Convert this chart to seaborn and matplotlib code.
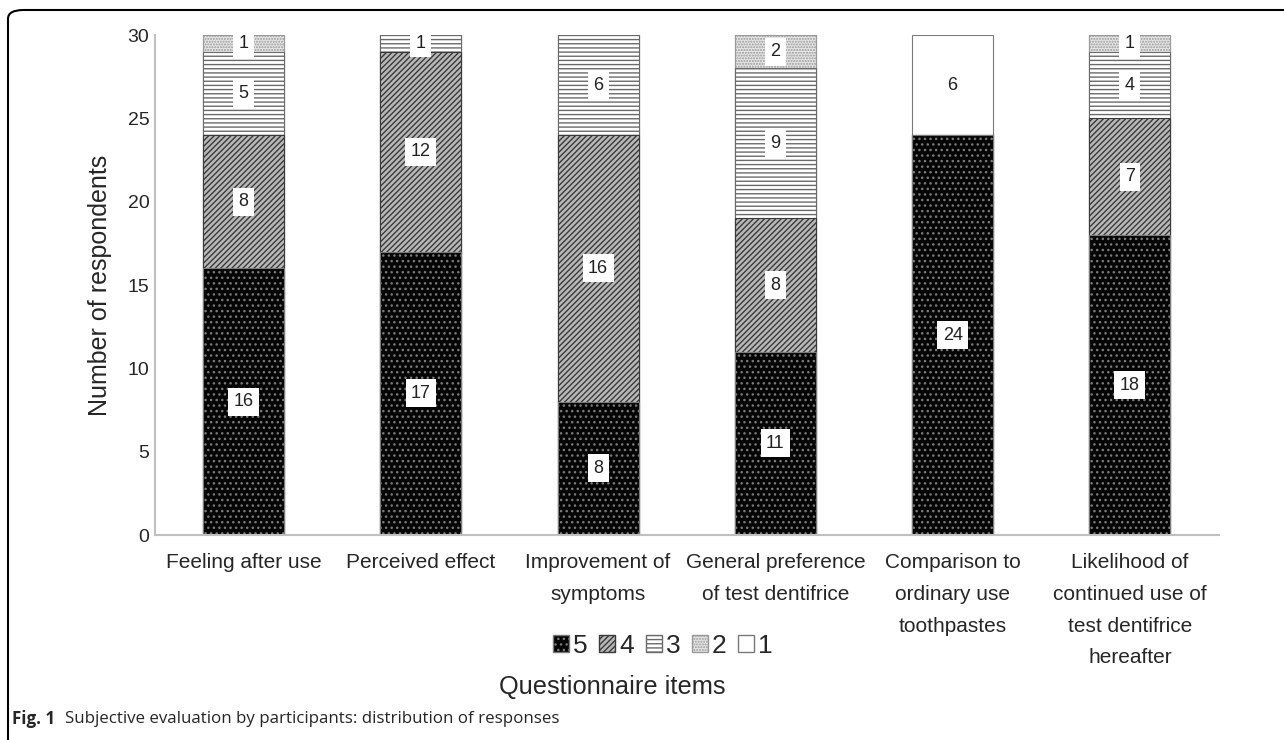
import matplotlib
matplotlib.use("Agg")
import matplotlib.pyplot as plt
import matplotlib.patches as mpatches
import numpy as np
import seaborn as sns

# Questionnaire items (x categories)
items = [
    "Feeling after use",
    "Perceived effect",
    "Improvement of\nsymptoms",
    "General preference\nof test dentifrice",
    "Comparison to\nordinary use\ntoothpastes",
    "Likelihood of\ncontinued use of\ntest dentifrice\nhereafter",
]

# Number of respondents giving each score
score5 = [16, 17, 8, 11, 24, 18]
score4 = [8, 12, 16, 8, 0, 7]
score3 = [5, 1, 6, 9, 0, 4]
score2 = [1, 0, 0, 2, 0, 1]
score1 = [0, 0, 0, 0, 6, 0]

scores = ["5", "4", "3", "2", "1"]
yticks = [0, 5, 10, 15, 20, 25, 30]

# fill style per score: facecolor, hatch, hatch/edge colour
styles = {
    "5": dict(color="#050505", hatch="...", edgecolor="#7a7a7a"),
    "4": dict(color="#b8b8b8", hatch="//////", edgecolor="#3a3a3a"),
    "3": dict(color="#ffffff", hatch="----", edgecolor="#6a6a6a"),
    "2": dict(color="#e6e6e6", hatch="......", edgecolor="#9a9a9a"),
    "1": dict(color="#ffffff", hatch="", edgecolor="#7a7a7a"),
}

sns.set_theme(style="white")
plt.rcParams["font.family"] = ["Liberation Sans", "DejaVu Sans"]
plt.rcParams["hatch.linewidth"] = 1.0

fig = plt.figure(figsize=(12.84, 7.4), dpi=100)
ax = fig.add_axes([0.1207, 0.2770, 0.8283, 0.6757])

layers = np.array([score5, score4, score3, score2, score1], dtype=float)
cum = np.cumsum(layers, axis=0)
bar_w = 0.456

# stacked bars: draw cumulative totals from the top layer down
for i in range(len(scores) - 1, -1, -1):
    st = styles[scores[i]]
    sns.barplot(x=items, y=cum[i], order=items, ax=ax, width=bar_w,
                color=st["color"], hatch=st["hatch"],
                edgecolor=st["edgecolor"], linewidth=0.8,
                saturation=1, errorbar=None)

# value labels in white boxes at segment centres
for i in range(len(scores)):
    for j in range(len(items)):
        v = layers[i, j]
        if v <= 0:
            continue
        yc = cum[i, j] - v / 2
        ax.text(j, yc, f"{int(v)}", ha="center", va="center", fontsize=13,
                color="#222222",
                bbox=dict(boxstyle="square,pad=0.3", fc="white", ec="none"))

ax.set_ylim(0, 30)
ax.set_xlim(-0.5, len(items) - 0.5)
ax.set_yticks(yticks)
ax.set_yticklabels([str(t) for t in yticks], fontsize=14)
ax.tick_params(axis="both", length=0)
ax.tick_params(axis="y", pad=4)
ax.tick_params(axis="x", pad=13)
for lab in ax.get_xticklabels():
    lab.set_fontsize(15)
    lab.set_linespacing(1.85)

for s in ["top", "right"]:
    ax.spines[s].set_visible(False)
for s in ["left", "bottom"]:
    ax.spines[s].set_color("#c0c0c0")
    ax.spines[s].set_linewidth(1.5)

ax.set_xlabel("")
ax.set_ylabel("Number of respondents", fontsize=18, labelpad=11)

# legend
handles = [mpatches.Patch(facecolor=styles[s]["color"], hatch=styles[s]["hatch"],
                          edgecolor=styles[s]["edgecolor"], label=s) for s in scores]
fig.legend(handles=handles, loc="center", bbox_to_anchor=(663 / 1284, 1 - 646 / 740),
           ncol=5, frameon=False, fontsize=19, handlelength=0.6,
           handleheight=0.6, handletextpad=0.15, columnspacing=0.45)

fig.text(0.4765, 1 - 687 / 740, "Questionnaire items", ha="center", va="center",
         fontsize=18.3)

# caption
cap1 = fig.text(12 / 1284, 1 - 719 / 740, "Fig. 1", ha="left", va="center",
                fontsize=12.2, fontweight="bold", family=["Open Sans", "DejaVu Sans"])
fig.canvas.draw()
bb = cap1.get_window_extent()
fig.text((bb.x1 + 10) / 1284, 1 - 719 / 740,
         "Subjective evaluation by participants: distribution of responses",
         ha="left", va="center", fontsize=12.2, family=["Open Sans", "DejaVu Sans"])

# frame with rounded top-left corner
frame = mpatches.FancyBboxPatch((8 / 1284, -0.1), 1.2, 1 - 10 / 740 + 0.1,
                                boxstyle="round,pad=0,rounding_size=0.012",
                                transform=fig.transFigure, fill=False,
                                edgecolor="black", linewidth=1.5, clip_on=False)
fig.add_artist(frame)

fig.savefig("out.png", dpi=100)
